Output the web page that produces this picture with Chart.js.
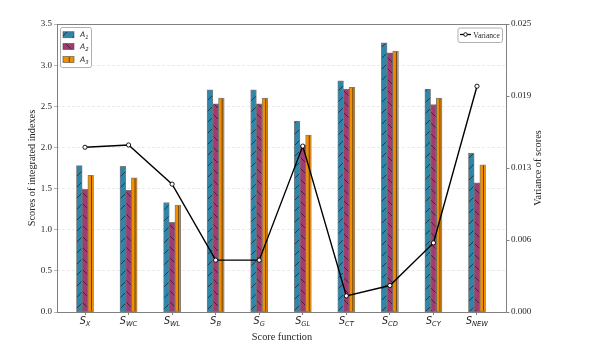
<!DOCTYPE html>
<html>
<head>
<meta charset="utf-8">
<script src="https://cdn.jsdelivr.net/npm/chart.js@4.4.1/dist/chart.umd.min.js"></script>
<style>
  html, body { margin: 0; padding: 0; background: #fff; }
</style>
</head>
<body>
<canvas id="chart" width="600" height="350"></canvas>
<script>
// categories: 'S_X' -> S with subscript X
const CATEGORIES = ['S_X', 'S_WC', 'S_WL', 'S_B', 'S_G', 'S_GL', 'S_CT', 'S_CD', 'S_CY', 'S_NEW'];
const SERIES     = ['A_1', 'A_2', 'A_3'];
const A1 = [1.78, 1.77, 1.33, 2.70, 2.70, 2.32, 2.81, 3.27, 2.71, 1.93];
const A2 = [1.49, 1.48, 1.09, 2.53, 2.53, 2.03, 2.71, 3.15, 2.52, 1.57];
const A3 = [1.66, 1.63, 1.30, 2.60, 2.60, 2.15, 2.73, 3.17, 2.60, 1.79];
const VARIANCE = [0.0143, 0.0145, 0.0111, 0.0045, 0.0045, 0.0144, 0.0014, 0.0023, 0.0060, 0.0196];
const LEFT_TICKS  = [0, 0.5, 1.0, 1.5, 2.0, 2.5, 3.0, 3.5];
const RIGHT_TICKS = [0, 0.00625, 0.0125, 0.01875, 0.025];

const SERIF = "'Liberation Serif', 'Times New Roman', serif";
const MATH  = "'DejaVu Sans', sans-serif";
const TEXT  = '#262626';
const SPINE = '#808080';
const COLORS = ['#2E86AB', '#A23B72', '#F18F01'];
const HATCH  = ['/', '\\', '|'];

const pts = arr => arr.map((v, i) => ({ x: i, y: v }));

// hatch lines clipped to a rect
function hatchRect(ctx, kind, l, t, r, b) {
  ctx.save();
  ctx.beginPath(); ctx.rect(l, t, r - l, b - t); ctx.clip();
  ctx.strokeStyle = 'rgba(20,20,20,0.8)';
  ctx.lineWidth = 0.8;
  ctx.beginPath();
  const step = 11;
  if (kind === '/') {
    for (let c = Math.floor((l + t) / step) * step; c <= r + b; c += step) { ctx.moveTo(l, c - l); ctx.lineTo(r, c - r); }
  } else if (kind === '\\') {
    for (let c = Math.floor((t - r) / step) * step; c <= b - l; c += step) { ctx.moveTo(l, l + c); ctx.lineTo(r, r + c); }
  } else {
    const x = (l + r) / 2 + 0.8;
    ctx.moveTo(x, t); ctx.lineTo(x, b);
  }
  ctx.stroke();
  ctx.restore();
}

// mathtext-like label: base letter + subscript
function mathText(ctx, label, x, y, size, align) {
  const [base, sub] = label.split('_');
  ctx.font = `italic ${size}px ${MATH}`;
  const wb = ctx.measureText(base).width;
  ctx.font = `italic ${size * 0.7}px ${MATH}`;
  const ws = ctx.measureText(sub).width;
  const x0 = align === 'center' ? x - (wb + ws) / 2 : x;
  ctx.textAlign = 'left';
  ctx.textBaseline = 'alphabetic';
  ctx.fillStyle = TEXT;
  ctx.font = `italic ${size}px ${MATH}`;
  ctx.fillText(base, x0, y);
  ctx.font = `italic ${size * 0.7}px ${MATH}`;
  ctx.fillText(sub, x0 + wb, y + size * 0.22);
}

const hatchPlugin = {
  id: 'hatch',
  afterDatasetDraw(chart, args) {
    const ds = chart.data.datasets[args.index];
    if (!ds.hatch) return;
    const ctx = chart.ctx;
    args.meta.data.forEach(el => {
      const p = el.getProps(['x', 'y', 'base', 'width'], true);
      hatchRect(ctx, ds.hatch, p.x - p.width / 2 + 0.5, p.y + 0.5, p.x + p.width / 2 - 0.5, p.base - 0.5);
    });
  }
};

const decorPlugin = {
  id: 'decor',
  afterDraw(chart) {
    const ctx = chart.ctx;
    const a = chart.chartArea;
    const xs = chart.scales.x;

    // frame
    ctx.save();
    ctx.strokeStyle = SPINE;
    ctx.lineWidth = 1;
    ctx.strokeRect(Math.round(a.left) + 0.5, Math.round(a.top) + 0.5, Math.round(a.right - a.left) - 1, Math.round(a.bottom - a.top));
    ctx.restore();

    // x tick labels
    CATEGORIES.forEach((c, i) => mathText(ctx, c, xs.getPixelForValue(i), 323.7, 9.6, 'center'));

    // right axis title
    ctx.save();
    ctx.translate(538.5, 168);
    ctx.rotate(-Math.PI / 2);
    ctx.textAlign = 'center';
    ctx.textBaseline = 'middle';
    ctx.fillStyle = TEXT;
    ctx.font = `10.3px ${SERIF}`;
    ctx.fillText('Variance of scores', 0, 0);
    ctx.restore();

    // bar legend (top left)
    ctx.save();
    ctx.fillStyle = 'rgba(255,255,255,0.85)';
    ctx.strokeStyle = '#b0b0b0';
    ctx.lineWidth = 1;
    ctx.beginPath(); ctx.roundRect(60.5, 27.5, 31, 40, 2); ctx.fill(); ctx.stroke();
    const rows = [31.7, 43.5, 56.5];
    SERIES.forEach((s, k) => {
      const y = rows[k];
      ctx.fillStyle = COLORS[k];
      ctx.fillRect(63, y, 11, 6);
      hatchRect(ctx, HATCH[k], 63, y, 74, y + 6);
      ctx.strokeStyle = 'rgba(70,70,70,0.7)';
      ctx.lineWidth = 0.8;
      ctx.strokeRect(63, y, 11, 6);
      mathText(ctx, s, 80, y + 5.6, 7.6, 'left');
    });
    ctx.restore();

    // variance legend (top right)
    ctx.save();
    ctx.fillStyle = 'rgba(255,255,255,0.85)';
    ctx.strokeStyle = '#b0b0b0';
    ctx.lineWidth = 1;
    ctx.beginPath(); ctx.roundRect(458, 28, 44.5, 14.5, 2); ctx.fill(); ctx.stroke();
    ctx.strokeStyle = '#000';
    ctx.lineWidth = 1.3;
    ctx.beginPath(); ctx.moveTo(460, 34.5); ctx.lineTo(471, 34.5); ctx.stroke();
    ctx.fillStyle = '#fff';
    ctx.lineWidth = 0.9;
    ctx.beginPath(); ctx.arc(465.5, 34.5, 1.8, 0, Math.PI * 2); ctx.fill(); ctx.stroke();
    ctx.fillStyle = TEXT;
    ctx.font = `8.5px ${SERIF}`;
    ctx.textAlign = 'left';
    ctx.textBaseline = 'alphabetic';
    ctx.fillText('Variance', 473.3, 37.6, 26.5);
    ctx.restore();
  }
};

const barSets = [A1, A2, A3].map((d, k) => ({
  type: 'bar',
  label: SERIES[k],
  data: pts(d),
  yAxisID: 'y',
  order: 1,
  backgroundColor: COLORS[k],
  borderColor: 'rgba(70,70,70,0.7)',
  borderWidth: 0.9,
  borderSkipped: false,
  barThickness: 5.7,
  hatch: HATCH[k]
}));

new Chart(document.getElementById('chart'), {
  type: 'bar',
  data: {
    datasets: [
      {
        type: 'line',
        label: 'Variance',
        data: pts(VARIANCE),
        yAxisID: 'y1',
        order: 0,
        borderColor: '#000',
        borderWidth: 1.4,
        pointRadius: 2.1,
        pointBackgroundColor: '#fff',
        pointBorderColor: '#000',
        pointBorderWidth: 0.9,
        tension: 0
      },
      ...barSets
    ]
  },
  options: {
    responsive: false,
    animation: false,
    layout: { padding: { top: 24, left: 0, right: 0, bottom: 0 } },
    plugins: { legend: { display: false }, tooltip: { enabled: false } },
    scales: {
      x: {
        type: 'linear',
        min: -0.643,
        max: 9.689,
        offset: false,
        afterBuildTicks: s => { s.ticks = CATEGORIES.map((_, i) => ({ value: i })); },
        afterFit: s => { s.height = 38; },
        ticks: { display: false },
        grid: { offset: false, drawOnChartArea: false, drawTicks: true, tickLength: 3, tickColor: SPINE },
        border: { display: false },
        title: {
          display: true, text: 'Score function', color: TEXT,
          font: { family: SERIF, size: 10.3 }, padding: { top: 0, bottom: 7 }
        }
      },
      y: {
        position: 'left',
        min: 0,
        max: 3.5,
        afterBuildTicks: s => { s.ticks = LEFT_TICKS.map(v => ({ value: v })); },
        afterFit: s => { s.width = 57; },
        ticks: { color: TEXT, padding: 2, font: { family: SERIF, size: 9 }, callback: v => v.toFixed(1) },
        grid: { color: 'rgba(0,0,0,0.14)', lineWidth: 0.6, tickLength: 3, tickColor: SPINE },
        border: { display: false, dash: [3, 2] },
        title: {
          display: true, text: 'Scores of integrated indexes', color: TEXT,
          font: { family: SERIF, size: 10.3 }, padding: { top: 25.7, bottom: 0 }
        }
      },
      y1: {
        position: 'right',
        min: 0,
        max: 0.025,
        afterBuildTicks: s => { s.ticks = RIGHT_TICKS.map(v => ({ value: v })); },
        afterFit: s => { s.width = 93; },
        ticks: { color: TEXT, padding: 1.5, font: { family: SERIF, size: 9 }, callback: v => v.toFixed(3) },
        grid: { drawOnChartArea: false, tickLength: 2.5, tickColor: SPINE },
        border: { display: false }
      }
    }
  },
  plugins: [hatchPlugin, decorPlugin]
});
</script>
</body>
</html>
